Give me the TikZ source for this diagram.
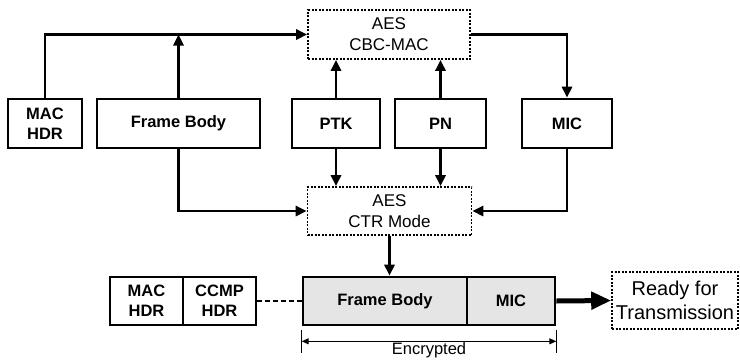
\documentclass[tikz,border=0pt]{standalone}
\usepackage{fontspec}
\setmainfont{Liberation Sans}
\usetikzlibrary{arrows.meta}
\tikzset{
  blk/.style={draw, line width=2.6pt, inner sep=0pt, align=center,
    minimum height=49pt, font=\fontsize{16.5}{20}\selectfont\bfseries},
  cipher/.style={draw, line width=1.6pt, dash pattern=on 2pt off 1.5pt,
    inner sep=0pt, align=center, font=\fontsize{17}{21}\selectfont},
  enc/.style={blk, fill=black!10},
  flow/.style={line width=2.6pt, -{Triangle[length=11pt,width=10pt]}},
  link/.style={line width=2.4pt},
  dim/.style={line width=1pt, {Triangle[length=7pt,width=6pt]}-{Triangle[length=7pt,width=6pt]}}
}
\begin{document}
\begin{tikzpicture}[x=1pt,y=-1pt]
\useasboundingbox (0,0) rectangle (740,360);

% cipher stages
\node[cipher, minimum width=162pt, minimum height=49pt] (cbc) at (389,34.5) {AES\\CBC-MAC};
\node[cipher, minimum width=164pt, minimum height=48pt] (ctr) at (389.5,211) {AES\\CTR Mode};

% plaintext inputs
\node[blk, minimum width=74pt]  (machdr) at (45,123.5)    {MAC\\HDR};
\node[blk, minimum width=163pt] (fb)     at (178.5,123.5) {Frame Body};
\node[blk, minimum width=88pt]  (ptk)    at (336,123.5)   {PTK};
\node[blk, minimum width=91pt]  (pn)     at (440.5,123.5) {PN};
\node[blk, minimum width=90pt]  (mic)    at (567,123.5)   {MIC};

% output frame
\node[blk, minimum width=73pt, minimum height=48pt]  (mac2) at (146.5,301) {MAC\\HDR};
\node[blk, minimum width=73pt, minimum height=48pt]  (ccmp) at (219.5,301) {CCMP\\HDR};
\node[enc, minimum width=164pt, minimum height=48pt] (efb)  at (385,301)   {Frame Body};
\node[enc, minimum width=88pt, minimum height=48pt]  (emic) at (511,301)   {MIC};
\node[cipher, minimum width=126pt, minimum height=57pt,
      font=\fontsize{20}{24}\selectfont] (ready) at (675,300.5) {Ready for\\Transmission};

% MIC computation
\draw[flow] (machdr.north) |- (cbc.west);
\coordinate (fbjoin) at (fb.north |- cbc.west);
\draw[flow] (fb.north) -- (fbjoin);
\draw[flow] (ptk.north) -- (ptk.north |- cbc.south);
\draw[flow] (pn.north) -- (pn.north |- cbc.south);
\draw[flow] (cbc.east) -| (mic.north);

% encryption
\draw[flow] (fb.south) |- (ctr.west);
\draw[flow] (ptk.south) -- (ptk.south |- ctr.north);
\draw[flow] (pn.south) -- (pn.south |- ctr.north);
\draw[flow] (mic.south) |- (ctr.east);
\draw[flow] (ctr.south) -- (ctr.south |- efb.north);

% assembled frame
\draw[link, dash pattern=on 5pt off 3pt] (ccmp.east) -- (efb.west);
\draw[line width=5pt, -{Triangle[length=20pt,width=17pt]}] (emic.east) -- (ready.west);

% encrypted span
\coordinate (encL) at ([yshift=-4pt]efb.south west);
\coordinate (encR) at ([yshift=-4pt]emic.south east);
\draw[line width=1pt] (encL) -- ++(0,23);
\draw[line width=1pt] (encR) -- ++(0,23);
\draw[dim] ([yshift=-11pt]encL) -- node[below=1pt, inner sep=0pt, font=\fontsize{16.5}{20}\selectfont] (enclabel) {Encrypted} ([yshift=-11pt]encR);
\end{tikzpicture}
\end{document}
